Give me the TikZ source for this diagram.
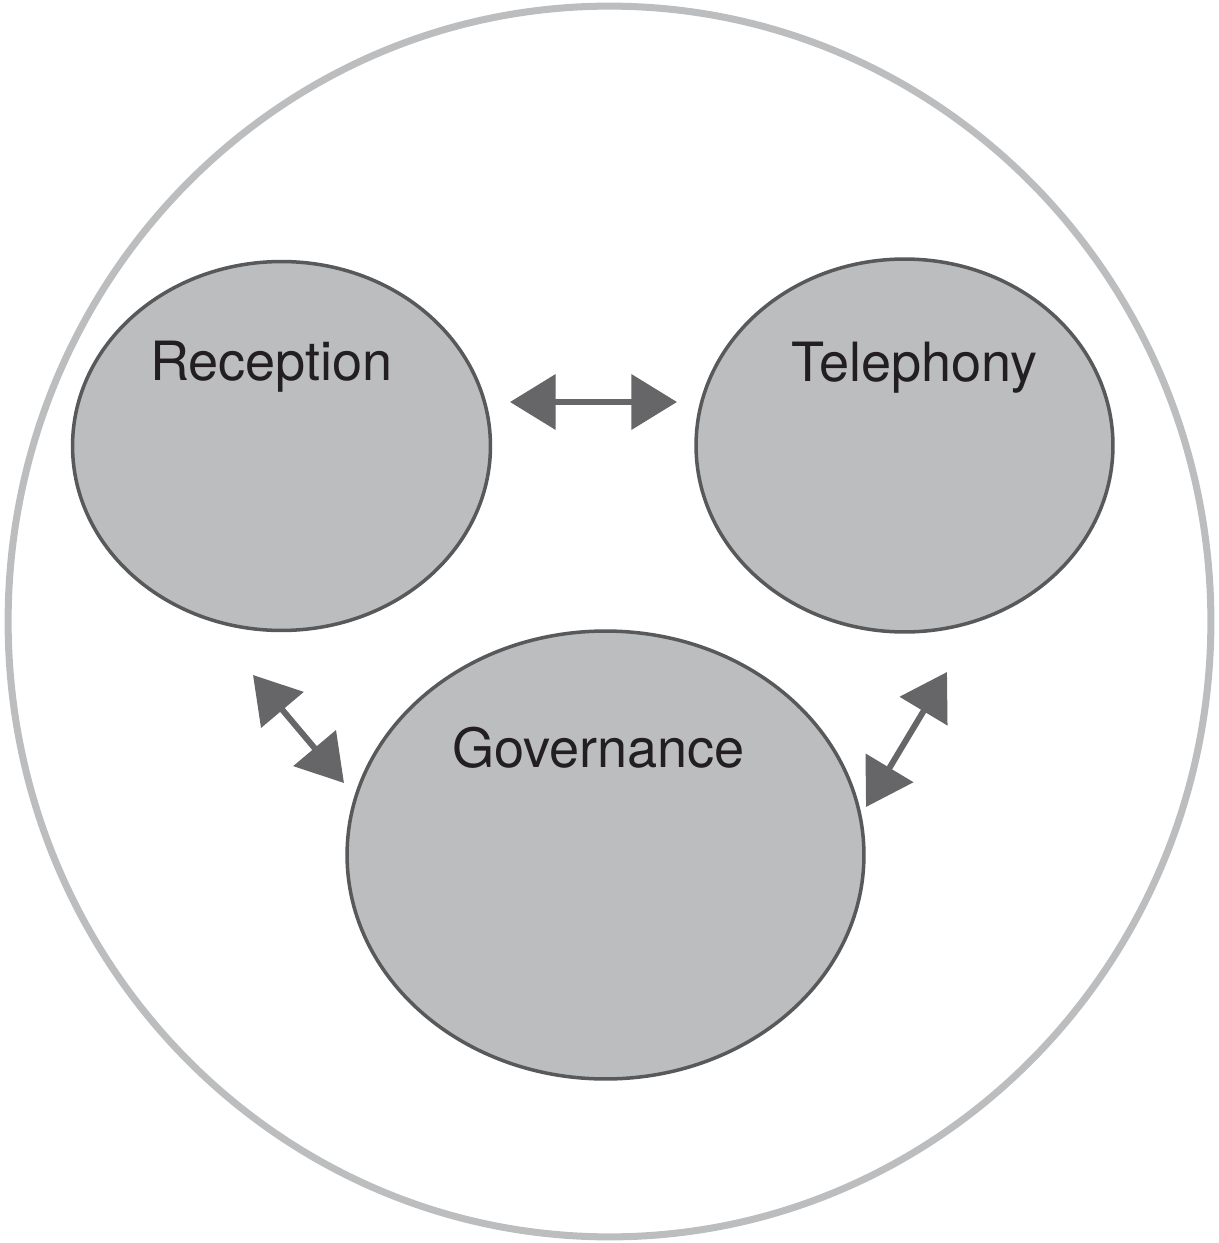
\documentclass[tikz,border=0pt]{standalone}
\usepackage{fontspec}
\setmainfont{TeX Gyre Heros}
\usetikzlibrary{shapes.geometric,arrows.meta}
\definecolor{blobfill}{HTML}{BCBDBF}
\definecolor{blobline}{HTML}{58595B}
\definecolor{outerline}{HTML}{BCBDBF}
\definecolor{arrowgray}{HTML}{666668}
\definecolor{txt}{HTML}{231F20}
\tikzset{
  blob/.style={ellipse, draw=blobline, fill=blobfill, line width=2pt, inner sep=0pt},
  outerring/.style={ellipse, draw=outerline, line width=4pt, inner sep=0pt},
  lbl/.style={text=txt, font=\fontsize{30.8}{36}\selectfont, inner sep=0pt},
  dbl/.style={draw=arrowgray, line width=3.4pt, {Triangle[length=26pt,width=31pt]}-{Triangle[length=26pt,width=31pt]}, arrowgray}
}
\begin{document}
\begin{tikzpicture}[x=0.02cm,y=-0.02cm]
\useasboundingbox (0,0) rectangle (1219,1243);
\node[outerring, minimum width=24.06cm, minimum height=24.62cm] (outer) at (609.5,621.5) {};
\node[blob, minimum width=8.36cm, minimum height=7.38cm] (rec) at (281.5,446) {};
\node[blob, minimum width=8.34cm, minimum height=7.46cm] (tel) at (904.5,445.5) {};
\node[blob, minimum width=10.34cm, minimum height=8.96cm] (gov) at (605.5,855) {};
\node[lbl] (recl) at (271.5,367) {Reception};
\node[lbl] (tell) at (914.5,368) {Telephony};
\node[lbl] (govl) at (598.5,748) {Governance};
\coordinate (a1) at (510,402);
\coordinate (a2) at (677,402);
\coordinate (b1) at (253,675);
\coordinate (b2) at (344,783);
\coordinate (c1) at (947,672);
\coordinate (c2) at (866,807);
\draw[dbl] (a1) -- (a2);
\draw[dbl] (b1) -- (b2);
\draw[dbl] (c1) -- (c2);
\end{tikzpicture}
\end{document}
